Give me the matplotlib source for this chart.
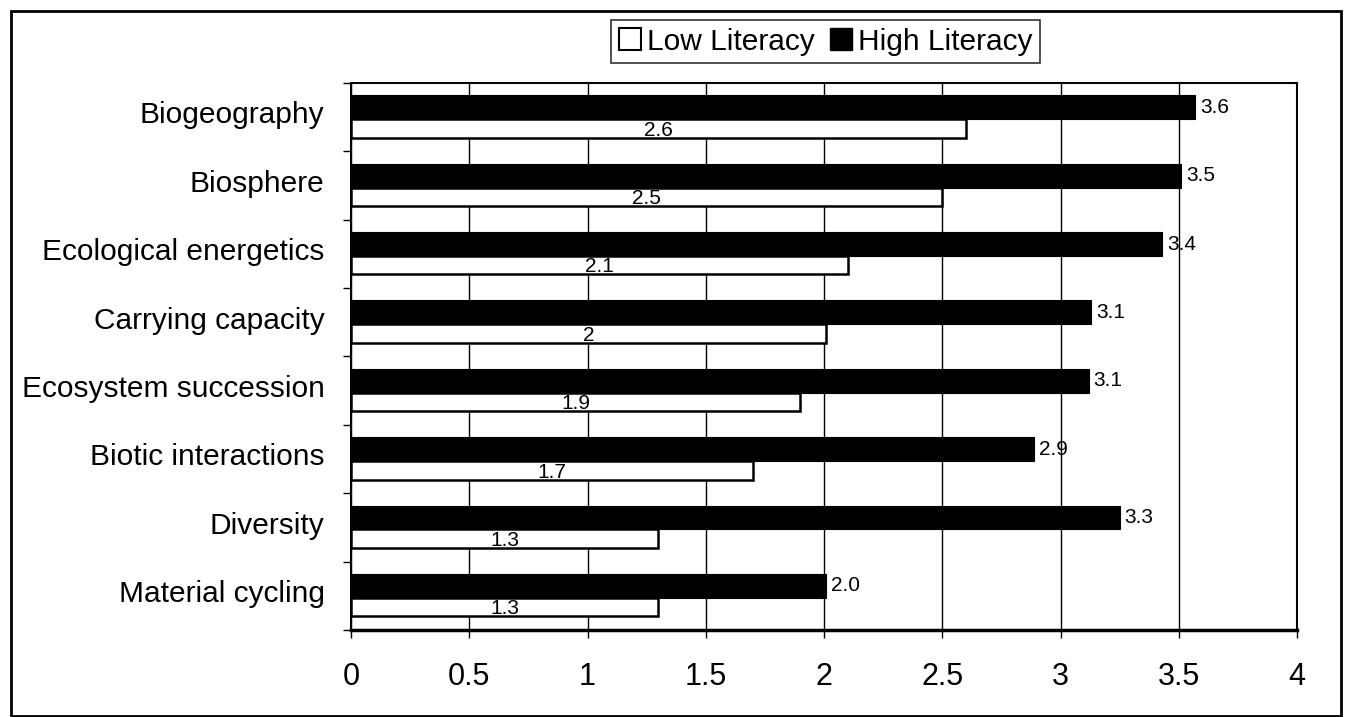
import matplotlib
matplotlib.use("Agg")
import matplotlib.pyplot as plt
from matplotlib.patches import Rectangle, Patch
import numpy as np

plt.rcParams['font.family'] = ['Liberation Sans', 'DejaVu Sans']

categories = ["Biogeography", "Biosphere", "Ecological energetics", "Carrying capacity",
              "Ecosystem succession", "Biotic interactions", "Diversity", "Material cycling"]
high_values = [3.57, 3.51, 3.43, 3.13, 3.12, 2.89, 3.25, 2.01]
low_values = [2.60, 2.50, 2.10, 2.01, 1.90, 1.70, 1.30, 1.30]
high_labels = ["3.6", "3.5", "3.4", "3.1", "3.1", "2.9", "3.3", "2.0"]
low_labels = ["2.6", "2.5", "2.1", "2", "1.9", "1.7", "1.3", "1.3"]
xticks = [0, 0.5, 1, 1.5, 2, 2.5, 3, 3.5, 4]
xtick_labels = ["0", "0.5", "1", "1.5", "2", "2.5", "3", "3.5", "4"]

W, H = 1345, 717
fig = plt.figure(figsize=(W / 100, H / 100), dpi=100)
ax = fig.add_axes([351 / W, 1 - 630 / H, (1297 - 351) / W, (630 - 83) / H])

n = len(categories)
pos = np.arange(n)
black_off, black_h = 0.18, 0.35
white_off, white_h = 0.53, 0.27

ax.set_axisbelow(True)
ax.grid(axis='x', color='black', linewidth=1.0)
ax.grid(axis='y', visible=False)

ax.barh(pos + black_off, high_values, height=black_h, align='edge',
        color='black', edgecolor='black', linewidth=0.8, zorder=3)
ax.barh(pos + white_off, low_values, height=white_h, align='edge',
        color='white', edgecolor='black', linewidth=1.8, zorder=3)

for i in range(n):
    ax.text(high_values[i] + 0.02, pos[i] + black_off + black_h / 2, high_labels[i],
            ha='left', va='center', fontsize=15, color='black', zorder=4)
    ax.text(low_values[i] / 2, pos[i] + white_off + white_h - 0.03, low_labels[i],
            ha='center', va='baseline', fontsize=15, color='black', zorder=4)

ax.set_xlim(0, 4)
ax.set_ylim(n, 0)
ax.set_xticks(xticks)
ax.set_xticklabels(xtick_labels, fontsize=22)
ax.tick_params(axis='x', direction='out', length=6, width=1, pad=17)

ax.set_yticks(np.arange(n + 1))
ax.set_yticklabels([])
ax.tick_params(axis='y', which='major', direction='out', length=6, width=1)
ax.set_yticks(pos + 0.43, minor=True)
ax.set_yticklabels(categories, minor=True, fontsize=21.5)
ax.tick_params(axis='y', which='minor', length=0, pad=19)

for s in ['top', 'right', 'left']:
    ax.spines[s].set_linewidth(1.5)
    ax.spines[s].set_color('black')
ax.spines['bottom'].set_linewidth(2.5)

handles = [Patch(facecolor='white', edgecolor='black', linewidth=1.5),
           Patch(facecolor='black', edgecolor='black')]
leg = fig.legend(handles, ["Low Literacy", "High Literacy"], loc='center',
                 bbox_to_anchor=((608 + 1043) / 2 / W, 1 - 41.5 / H), ncol=2,
                 fontsize=21.5, frameon=True, fancybox=False, shadow=False,
                 handlelength=0.75, handleheight=0.75, handletextpad=0.2,
                 columnspacing=0.5, borderpad=0.25, borderaxespad=0)
leg.get_frame().set_edgecolor('black')
leg.get_frame().set_linewidth(1.2)

fig.patches.append(Rectangle((11 / W, 1 / H), (1341 - 11) / W, (716 - 11) / H,
                             transform=fig.transFigure, fill=False,
                             edgecolor='black', linewidth=2))

fig.savefig("out.png", dpi=100)
